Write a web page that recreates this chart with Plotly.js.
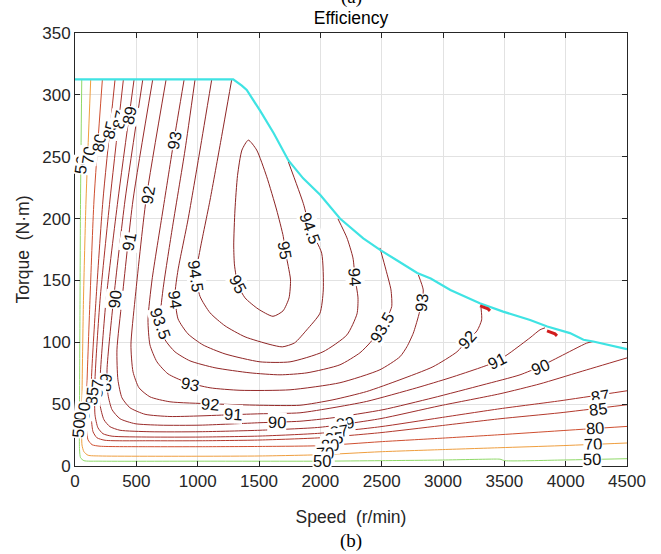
<!DOCTYPE html>
<html><head><meta charset="utf-8">
<script src="https://cdn.plot.ly/plotly-3.0.1.min.js"></script>
<style>html,body{margin:0;padding:0;background:#fff}#chart{width:661px;height:554px}</style>
</head><body><div id="chart"></div>
<script>
// ---------- data (speed in r/min, torque in N·m) ----------
const levels = [50,70,80,85,87,89,90,91,92,93,93.5,94,94.5,95];
const xTicks = [0,500,1000,1500,2000,2500,3000,3500,4000,4500];
const yTicks = [0,50,100,150,200,250,300,350];

const envSpeed  = [0,1290,1360,1400,1510,1620,1740,1860,2000,2160,2350,2490,2620,2790,2900,3060,3300,3490,3710,3850,4035,4145,4225,4470,4500];
const envTorque = [312.5,312.5,307.5,304,287,269,247,232.5,219,200,184,174.5,166.5,156,151.5,142.3,131.6,124.8,118,112.7,107.4,102,100.6,95.3,94.5];

const speed50  = [55,45,41,37,37,45,73,204,1019,1997,2486,2975,3424,3465,3505,3954,4500];
const torque50 = [312,215,134,54,13,6.7,4.3,3.9,3.9,3.9,4.3,4.8,5.6,5.5,4.3,4.8,5.9];
const speed70  = [128,90,69,57,57,73,106,204,1019,1508,1997,2486,2975,3465,3954,4500];
const torque70 = [312,215,134,54,17,11.5,8.7,8.1,7.9,8.1,9.1,11.5,13.2,14.8,16.4,18.6];
const speed80  = [223,155,122,94,94,106,139,204,611,1019,1508,1997,2486,2975,3465,3954,4500];
const torque80 = [312,215,134,54,29.3,21.2,17.2,16.0,15.6,15.6,15.8,16.4,19.6,22.4,25.3,28.5,32.0];
const speed85  = [326,228,171,134,134,147,179,245,611,1019,1508,1997,2486,2975,3465,3954,4500];
const torque85 = [312,215,134,70,37.4,27.7,22.8,20.8,20.4,20.4,21.0,22.8,26.9,32.5,38.2,43.0,49.5];
const speed87  = [394,285,204,163,163,187,228,302,611,1019,1508,1997,2486,2975,3465,3954,4500];
const torque87 = [312,215,134,70,41.4,30.9,26.1,24.1,23.4,23.4,24.2,26.5,31.7,39.0,46.3,52.7,60.8];
const speed89  = [481,350,253,204,204,236,285,367,611,1019,1508,1997,2486,2975,3465,3791,4117,4500];
const torque89 = [312,215,134,70,49.5,37.4,31.8,28.9,27.7,27.7,28.9,31.3,38.2,48.7,58.4,66.4,76.1,87.4];
const speed90  = [552,408,314,261,269,302,367,489,693,1019,1508,1834,2103,2511,2918,3326,3628,3791,3954,4171,4223];
const torque90 = [312,215,134.3,77.8,57.6,45.5,38.2,34.2,33.0,33.0,35.0,36.2,39.0,45.5,55.1,65.6,73.7,80.4,88.5,99.3,100.6];
const speed91  = [633,473,383,342,350,383,448,571,774,1019,1288,1508,1834,2103,2378,2786,3057,3302,3438,3546,3709,3791,3832];
const torque91 = [312,215,134.3,93.9,69.7,55.1,47.1,41.8,40.0,40.5,41.5,42.2,43.0,47.1,52.2,63.2,71.3,79.4,84.5,91.5,103.6,110.1,111.7];
const speed92  = [742,579,489,456,473,522,611,774,1101,1508,1834,2103,2378,2649,2918,3114,3196,3277,3315,3310];
const torque92 = [312,215,134.3,97.9,76.1,63.2,55.9,51.9,50.3,49.1,49.1,53.5,60.2,69.7,80.2,92.3,101.2,109.2,118.1,127.8];
const speed93  = [889,807,717,628,595,611,668,758,897,1101,1345,1753,2160,2486,2649,2707,2758,2799,2826,2839,2799];
const torque93 = [312,263.4,206.9,150.4,118.1,97.9,84.2,74.5,68.1,63.2,61.2,61.6,67.3,77.8,88.3,96.6,107.4,120.8,131.6,142.3,154.5];
const speed935  = [978,897,791,717,693,734,815,937,1141,1427,1671,1891,2160,2323,2405,2486,2552,2582,2576,2535,2486];
const torque935 = [312,255.4,190.8,142.3,115.7,102.0,92.3,85.0,79.4,75.3,73.7,75.3,81.8,91.5,99.6,110.0,121.4,128.9,142.3,158.5,176.3];
const speed94  = [1114,1019,921,840,815,840,921,1043,1223,1508,1753,2022,2217,2299,2307,2283,2266,2217,2144];
const torque94 = [312,255.4,199.0,158.5,138.3,118.9,106.8,97.9,90.6,84.2,84.2,92.3,106.0,123.0,135.9,152.1,168.2,184.4,199.7];
const speed945  = [1277,1190,1101,1019,986,1019,1101,1223,1386,1590,1690,1790,1889,1997,2024,2011,1916,1861,1739];
const torque945 = [312,263.4,215.0,174.6,154.5,137.1,123.8,113.3,104.4,98.2,96.3,99.5,110.0,123.5,142.3,172.0,192.2,212.3,245.9];
const speed95  = [1413,1361,1325,1304,1294,1300,1329,1386,1492,1614,1696,1745,1757,1739,1712,1698,1644,1563,1481,1413];
const torque95 = [263.4,255.4,234.8,206.9,178.6,162.5,146.3,135.9,127.0,121.0,125.4,135.9,150.4,161.2,174.6,185.4,206.9,233.8,255.4,263.4];

const hook92Speed  = [3302,3367,3383];
const hook92Torque = [129.4,127.0,125.4];
const hook91Speed  = [3848,3913,3929];
const hook91Torque = [109.2,106.8,105.2];

// ---------- styles ----------
const FONT = 'Liberation Sans, Arial, Helvetica, sans-serif';
const TXT = '#262626';
const lineSets = [
  [50, speed50, torque50, '#8fd968'],
  [70, speed70, torque70, '#ef9e3e'],
  [80, speed80, torque80, '#cf4f30'],
  [85, speed85, torque85, '#b3392c'],
  [87, speed87, torque87, '#a9322c'],
  [89, speed89, torque89, '#9e2d2b'],
  [90, speed90, torque90, '#9a2b2a'],
  [91, speed91, torque91, '#982a2a'],
  [92, speed92, torque92, '#962a29'],
  [93, speed93, torque93, '#942828'],
  [93.5, speed935, torque935, '#922727'],
  [94, speed94, torque94, '#902626'],
  [94.5, speed945, torque945, '#8e2525'],
  [95, speed95, torque95, '#8c2424']
];

const traces = lineSets.map(s => ({
  type:'scatter', mode:'lines', x:s[1], y:s[2], name:String(s[0]),
  line:{color:s[3], width:1, shape:'spline', smoothing:0.6},
  hoverinfo:'skip', showlegend:false
}));
traces.push({type:'scatter', mode:'lines', x:envSpeed, y:envTorque, line:{color:'#3fe3e3', width:2.2},
  hoverinfo:'skip', showlegend:false});
[[hook92Speed,hook92Torque],[hook91Speed,hook91Torque]].forEach(h => traces.push({
  type:'scatter', mode:'lines', x:h[0], y:h[1], line:{color:'#d11d1d', width:3},
  hoverinfo:'skip', showlegend:false}));

// contour label spots: [level, speed, torque, angle]
const labelSpots = [
 [50,49,243.3,-83],[70,110,251.3,-82],[80,196,261,-80],[85,285,271.5,-78],[87,363,279.6,-78],[89,444,283.6,-78],
 [93,811,263.4,-80],[92,595,219,-80],[91,440,181.1,-80],[90,322,134.3,-83],
 [94,819,134.3,82],[93.5,697,115.7,70],[94.5,986,153.6,82],[95,1329,147.1,62],
 [95,1712,174.6,80],[94.5,1916,192.2,70],[94,2283,152.9,86],[93.5,2499,111.7,-60],[93,2826,131.6,-84],
 [92,3193,102,-48],[91,3438,84.5,-27],[90,3791,80.4,-23],
 [87,4280,56.8,-9],[85,4266,46.3,-7],[80,4239,30.5,-4],[70,4225,17.4,-3],[50,4212,5.3,-1],
 [93,937,66,12],[92,1101,50.3,5],[91,1288,41.8,3],[90,1647,35.4,2],[89,2205,35.0,-8],
 [87,2150,28.2,-8],[85,2112,22.8,-6],[80,2075,16.6,-4],[70,2042,10.2,-2],[50,2010,3.9,0],
 [89,245,67.3,-85],[87,177,62.2,-85],[85,134.5,56,-85],[80,69,44.6,-85],[70,33,36.6,-85],[50,24,30.1,-85]
];
const annotations = labelSpots.map(l => ({
  x:l[1], y:l[2], xref:'x', yref:'y', text:String(l[0]), showarrow:false, textangle:l[3],
  font:{family:FONT, size:16.5, color:'#111'}, bgcolor:'rgba(255,255,255,1)', borderpad:0
}));
annotations.push({xref:'paper', yref:'paper', x:0.5, y:-0.1723, text:'(b)', showarrow:false,
  font:{family:'Liberation Serif, Times New Roman, serif', size:19, color:'#000'}, yanchor:'middle'});
annotations.push({xref:'paper', yref:'paper', x:0.5, y:1.083, text:'(a)', showarrow:false,
  font:{family:'Liberation Serif, Times New Roman, serif', size:19, color:'#000'}, yanchor:'middle'});

const axisCommon = {
  ticks:'inside', ticklen:5, tickwidth:1, tickcolor:TXT, showline:true, linecolor:TXT, linewidth:1,
  mirror:'ticks', showgrid:true, gridcolor:'#e2e2e2', gridwidth:1, zeroline:false,
  tickfont:{family:FONT, size:17, color:TXT}, automargin:false
};
const layout = {
  width:661, height:554,
  margin:{l:75, r:34, t:33, b:88},
  paper_bgcolor:'#fff', plot_bgcolor:'#fff',
  title:{text:'Efficiency', font:{family:FONT, size:17.5, color:'#000'}, x:0.5, xref:'paper', xanchor:'center',
         y:1-18/554, yref:'container', yanchor:'middle'},
  xaxis:Object.assign({}, axisCommon, {range:[0,4500], tickvals:xTicks, ticktext:xTicks.map(String),
         title:{text:'Speed\u00a0 (r/min)', font:{family:FONT, size:17.5, color:TXT}, standoff:20}}),
  yaxis:Object.assign({}, axisCommon, {range:[0,350], tickvals:yTicks, ticktext:yTicks.map(String),
         title:{text:'Torque\u00a0 (N·m)', font:{family:FONT, size:17.5, color:TXT}, standoff:8}}),
  annotations:annotations,
  showlegend:false
};
Plotly.newPlot('chart', traces, layout, {displayModeBar:false, staticPlot:true});
</script></body></html>
